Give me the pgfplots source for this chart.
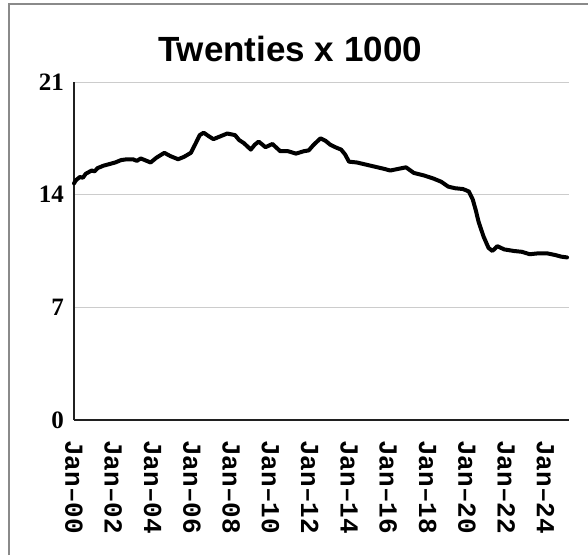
\documentclass[border=0pt]{standalone}
\usepackage{fontspec}
\setmainfont{Liberation Serif}
\newfontfamily\titlefont{Liberation Sans}
\newfontfamily\labfont{Liberation Mono}
\usepackage{pgfplots}
\pgfplotsset{compat=1.18}
\definecolor{gridg}{HTML}{CCCCCC}
\definecolor{framg}{HTML}{8A8A8A}
\definecolor{axk}{HTML}{202020}

\begin{document}
\begin{tikzpicture}[x=1pt,y=1pt]
\path[use as bounding box] (0,0) rectangle (588,555);
\draw[framg, line width=1.2pt] (9,0) -- (9,551) -- (588,551);
\node[anchor=base, font=\titlefont\bfseries\fontsize{35}{38}\selectfont] at (290,493) {Twenties x 1000};
\begin{axis}[
  at={(74pt,135pt)}, anchor=south west,
  scale only axis, width=495pt, height=338pt,
  xmin=0, xmax=25.2, ymin=0, ymax=21,
  axis x line*=bottom, axis y line*=left,
  axis line style={axk, line width=1.3pt},
  xtick={0,2,4,6,8,10,12,14,16,18,20,22,24},
  xticklabels={Jan–00,Jan–02,Jan–04,Jan–06,Jan–08,Jan–10,Jan–12,Jan–14,Jan–16,Jan–18,Jan–20,Jan–22,Jan–24},
  ytick={0,7,14,21},
  major tick length=0pt,
  ymajorgrids, grid style={gridg, line width=1pt},
  xticklabel style={rotate=-90, anchor=west, font=\labfont\bfseries\fontsize{26}{28}\selectfont, inner sep=0pt, xshift=20pt},
  yticklabel style={font=\bfseries\fontsize{25}{27}\selectfont, inner sep=0pt, xshift=-10pt},
  /pgf/number format/assume math mode=true,
  clip=false,
]
\addplot[black, line width=4pt, line join=round, line cap=round] coordinates {
(0.0,14.7) (0.1,14.9) (0.3,15.1) (0.45,15.05) (0.6,15.3) (0.9,15.5) (1.05,15.45) (1.2,15.65) (1.5,15.8)
(1.8,15.9) (2.1,16.0) (2.4,16.15) (2.7,16.2) (3.0,16.2) (3.2,16.1) (3.4,16.25) (3.7,16.1)
(3.9,16.0) (4.2,16.3) (4.6,16.6) (4.9,16.4) (5.3,16.2) (5.6,16.35) (5.95,16.6)
(6.2,17.2) (6.4,17.7) (6.6,17.85) (6.9,17.6) (7.1,17.45) (7.4,17.6) (7.8,17.8)
(8.0,17.75) (8.2,17.7) (8.4,17.4) (8.65,17.2) (9.0,16.8) (9.2,17.1) (9.4,17.3)
(9.75,16.95) (10.1,17.15) (10.5,16.7) (10.9,16.7) (11.3,16.55) (11.7,16.7)
(11.95,16.75) (12.2,17.1) (12.55,17.5) (12.8,17.35) (13.05,17.1) (13.3,16.95)
(13.6,16.8) (13.8,16.5) (14.0,16.05) (14.4,16.0) (14.75,15.9) (15.1,15.8)
(15.45,15.7) (15.8,15.6) (16.1,15.5) (16.5,15.6) (16.9,15.7) (17.3,15.35)
(17.8,15.2) (18.3,15.0) (18.7,14.8) (19.05,14.5) (19.4,14.4) (19.8,14.35)
(20.1,14.2) (20.3,13.7) (20.45,13.05) (20.6,12.3) (20.85,11.4) (21.1,10.7)
(21.3,10.5) (21.55,10.8) (21.9,10.6) (22.4,10.5) (22.8,10.45) (23.2,10.3)
(23.6,10.35) (24.1,10.35) (24.5,10.25) (24.8,10.15) (25.1,10.1)
};
\end{axis}
\end{tikzpicture}
\end{document}
